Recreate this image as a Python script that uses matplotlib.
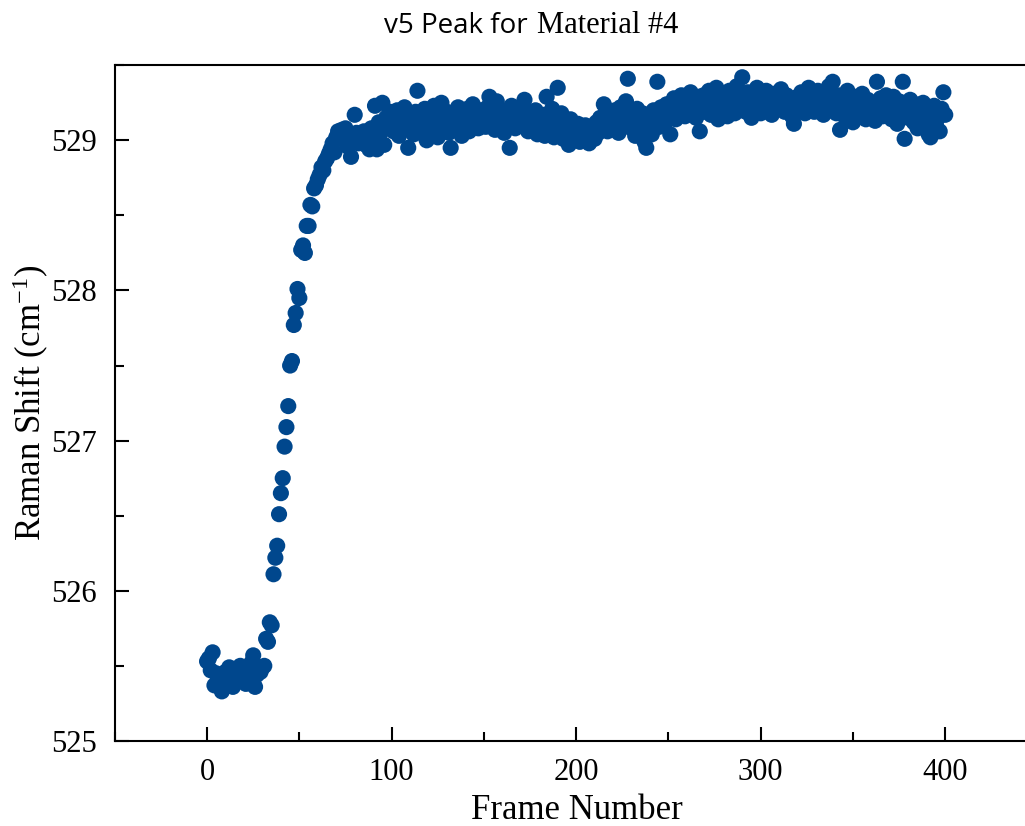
import matplotlib
matplotlib.use("Agg")
import matplotlib.pyplot as plt
from matplotlib.ticker import MultipleLocator
import numpy as np

# Raman shift of the v5 peak, one value per frame 0..400
rise = [
    525.53, 525.55, 525.47, 525.59, 525.37, 525.45, 525.41, 525.36, 525.33, 525.44,
    525.46, 525.39, 525.49, 525.42, 525.36, 525.44, 525.40, 525.47, 525.50, 525.43,
    525.44, 525.38, 525.47, 525.41, 525.52, 525.57, 525.36, 525.44, 525.48, 525.46,
    525.49, 525.50, 525.68, 525.66, 525.79, 525.77, 526.11, 526.22, 526.30, 526.51,
    526.65, 526.75, 526.96, 527.09, 527.23, 527.50, 527.53, 527.77, 527.85, 528.01,
    527.95, 528.27, 528.30, 528.25, 528.43, 528.43, 528.57, 528.56, 528.68, 528.70,
    528.74, 528.77, 528.82, 528.80, 528.86, 528.88, 528.91, 528.94, 528.98, 528.92,
    529.02, 529.06, 529.05, 529.07, 529.03, 529.08, 528.96, 529.04, 528.89, 529.02,
    529.17, 529.05, 528.98, 529.04, 529.01, 529.06, 528.97, 529.03, 528.94, 529.08,
    529.00, 529.23, 528.94, 529.12, 529.05, 529.25, 528.97, 529.15, 529.09, 529.19,
]
plateau = [
    529.18, 529.06, 529.12, 529.20, 529.03, 529.15, 529.09, 529.22, 529.11, 528.95,
    529.08, 529.16, 529.04, 529.19, 529.33, 529.10, 529.14, 529.06, 529.21, 529.00,
    529.13, 529.18, 529.07, 529.23, 529.11, 529.02, 529.16, 529.25, 529.09, 529.14,
    529.19, 529.05, 528.95, 529.12, 529.17, 529.08, 529.22, 529.13, 529.03, 529.18,
    529.10, 529.21, 529.06, 529.15, 529.24, 529.11, 529.17, 529.08, 529.20, 529.13,
    529.16, 529.09, 529.22, 529.29, 529.12, 529.18, 529.07, 529.26, 529.14, 529.10,
    529.20, 529.05, 529.17, 529.11, 528.95, 529.23, 529.13, 529.08, 529.19, 529.15,
    529.10, 529.21, 529.27, 529.12, 529.06, 529.18, 529.14, 529.09, 529.20, 529.04,
    529.13, 529.08, 529.17, 529.03, 529.29, 529.11, 529.06, 529.21, 529.02, 529.15,
    529.35, 529.09, 529.18, 529.01, 529.12, 529.06, 528.97, 529.14, 529.03, 529.08,
    529.05, 529.11, 528.99, 529.07, 529.02, 529.10, 529.04, 528.98, 529.09, 529.06,
    529.01, 529.12, 529.05, 529.15, 529.08, 529.24, 529.11, 529.06, 529.18, 529.13,
    529.09, 529.20, 529.14, 529.05, 529.22, 529.17, 529.11, 529.26, 529.41, 529.19,
    529.08, 529.15, 529.03, 529.21, 529.12, 529.06, 529.18, 528.99, 528.95, 529.10,
    529.16, 529.04, 529.20, 529.13, 529.39, 529.09, 529.22, 529.15, 529.11, 529.24,
    529.18, 529.04, 529.21, 529.28, 529.14, 529.25, 529.19, 529.30, 529.23, 529.16,
    529.27, 529.21, 529.32, 529.18, 529.25, 529.15, 529.29, 529.06, 529.22, 529.30,
    529.19, 529.26, 529.33, 529.17, 529.28, 529.22, 529.35, 529.14, 529.24, 529.31,
    529.20, 529.27, 529.16, 529.33, 529.23, 529.29, 529.18, 529.36, 529.25, 529.21,
    529.42, 529.28, 529.19, 529.32, 529.24, 529.15, 529.30, 529.22, 529.35, 529.26,
    529.18, 529.29, 529.23, 529.33, 529.20, 529.27, 529.17, 529.31, 529.24, 529.28,
    529.21, 529.34, 529.26, 529.19, 529.30, 529.23, 529.28, 529.16, 529.11, 529.25,
    529.29, 529.20, 529.32, 529.24, 529.18, 529.27, 529.35, 529.22, 529.30, 529.19,
    529.26, 529.33, 529.21, 529.28, 529.17, 529.31, 529.24, 529.36, 529.20, 529.39,
    529.25, 529.18, 529.30, 529.07, 529.22, 529.27, 529.15, 529.33, 529.21, 529.26,
    529.12, 529.29, 529.19, 529.24, 529.16, 529.31, 529.22, 529.14, 529.27, 529.20,
    529.17, 529.25, 529.13, 529.39, 529.21, 529.28, 529.16, 529.23, 529.30, 529.18,
    529.24, 529.14, 529.29, 529.20, 529.11, 529.26, 529.17, 529.39, 529.01, 529.22,
    529.15, 529.27, 529.19, 529.12, 529.24, 529.08, 529.21, 529.16, 529.25, 529.13,
    529.20, 529.04, 529.02, 529.18, 529.23, 529.10, 529.15, 529.06, 529.21, 529.32,
    529.17,
]
shift = rise + plateau
frames = np.arange(len(shift))

serif = "Liberation Serif"
plt.rcParams["mathtext.fontset"] = "custom"
plt.rcParams["mathtext.rm"] = serif
plt.rcParams["mathtext.default"] = "regular"

fig = plt.figure(figsize=(10.25, 8.26), dpi=100)
# axes runs past the right edge of the picture, like the cropped original
ax = fig.add_axes([0.112, 0.103, 0.902, 0.818])

ax.scatter(frames, shift, s=135, color="#00478d", edgecolors="none", zorder=3)

ax.set_xlim(-50, 451)
ax.set_ylim(525, 529.5)
ax.xaxis.set_major_locator(MultipleLocator(100))
ax.xaxis.set_minor_locator(MultipleLocator(50))
ax.yaxis.set_major_locator(MultipleLocator(1))
ax.yaxis.set_minor_locator(MultipleLocator(0.5))
ax.tick_params(which="both", direction="in", width=1.5, labelsize=22)
ax.tick_params(axis="x", pad=12)
ax.tick_params(axis="y", pad=13)
ax.tick_params(which="major", length=10)
ax.tick_params(which="minor", length=6.5)
for lab in ax.get_xticklabels() + ax.get_yticklabels():
    lab.set_fontfamily(serif)

for side in ["left", "bottom", "top"]:
    ax.spines[side].set_linewidth(1.5)
ax.spines["right"].set_visible(False)

ax.set_xlabel("Frame Number", fontsize=25, family=serif, labelpad=5)
ax.set_ylabel("Raman Shift (cm$^{-1}$)", fontsize=25, family=serif, labelpad=0)

# title mixes a sans part and a serif part
fig.text(528 / 1025, 1 - 33 / 826, "v5 Peak for", ha="right", va="baseline",
         fontsize=20, family="Open Sans")
fig.text(537 / 1025, 1 - 33 / 826, "Material #4", ha="left", va="baseline",
         fontsize=22, family=serif)

fig.savefig("out.png", dpi=100)
